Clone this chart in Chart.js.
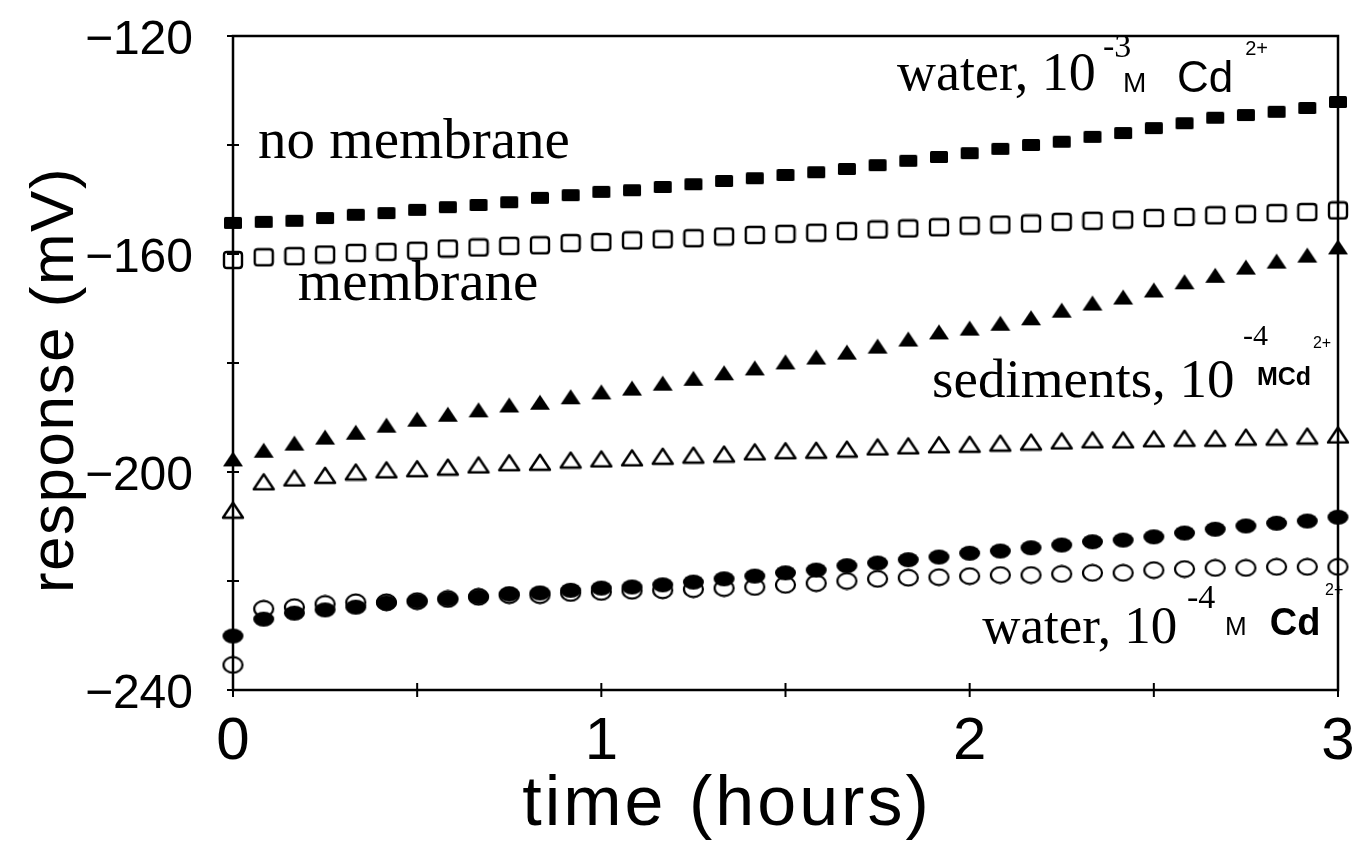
<!DOCTYPE html>
<html>
<head>
<meta charset="utf-8">
<script src="https://cdn.jsdelivr.net/npm/chart.js@4.4.1/dist/chart.umd.min.js"></script>
<style>
  html, body { margin: 0; padding: 0; background: #fff; }
  #wrap { width: 1356px; height: 848px; }
</style>
</head>
<body>
<div id="wrap"><canvas id="chart" width="1356" height="848"></canvas></div>
<script>
// Sampling times (minutes after immersion)
const minutes = [0, 5, 10, 15, 20, 25, 30, 35, 40, 45, 50, 55, 60, 65, 70, 75, 80, 85, 90,
  95, 100, 105, 110, 115, 120, 125, 130, 135, 140, 145, 150, 155, 160, 165, 170, 175, 180];

// Electrode response (mV): water, 1e-3 M Cd2+
const waterHighNoMembrane = [-154.3, -154.1, -153.9, -153.4, -152.8, -152.5, -151.9, -151.4, -151.0,
  -150.5, -149.7, -149.2, -148.6, -148.3, -147.7, -147.2, -146.6, -146.1, -145.5, -145.0, -144.4,
  -143.7, -142.9, -142.2, -141.5, -140.7, -140.0, -139.4, -138.5, -137.8, -136.9, -136.0, -135.0,
  -134.5, -133.9, -133.2, -132.1];
const waterHighMembrane = [-161.1, -160.6, -160.4, -160.1, -159.8, -159.6, -159.4, -159.0, -158.8,
  -158.5, -158.4, -158.0, -157.8, -157.5, -157.3, -157.1, -156.8, -156.5, -156.3, -156.1, -155.8,
  -155.5, -155.3, -155.1, -154.8, -154.6, -154.4, -154.1, -153.9, -153.7, -153.4, -153.2, -152.9,
  -152.7, -152.5, -152.3, -152.0];

// Sediments, 1e-4 M Cd2+
const sedimentNoMembrane = [-197.6, -196.0, -194.7, -193.6, -192.7, -191.4, -190.3, -189.4, -188.6,
  -187.7, -187.2, -186.2, -185.3, -184.6, -183.7, -182.8, -181.8, -180.9, -179.8, -178.9, -178.0,
  -176.9, -175.6, -174.3, -173.6, -172.7, -171.7, -170.3, -169.0, -167.9, -166.6, -165.1, -163.9,
  -162.4, -161.3, -160.2, -158.7];
const sedimentMembrane = [-207.0, -201.8, -201.1, -200.6, -200.0, -199.6, -199.4, -199.1, -198.7,
  -198.3, -198.2, -197.8, -197.6, -197.4, -197.1, -196.9, -196.7, -196.3, -196.1, -196.0, -195.8,
  -195.4, -195.2, -195.0, -194.9, -194.7, -194.5, -194.3, -194.1, -194.1, -193.9, -193.8, -193.8,
  -193.6, -193.6, -193.4, -193.2];

// Water, 1e-4 M Cd2+
const waterLowNoMembrane = [-230.1, -227.0, -225.9, -225.3, -224.8, -224.0, -223.7, -223.3, -222.9,
  -222.4, -222.2, -221.7, -221.3, -221.1, -220.7, -220.2, -219.6, -219.1, -218.5, -218.0, -217.2,
  -216.7, -216.1, -215.6, -214.9, -214.5, -213.9, -213.4, -212.8, -212.5, -211.9, -211.2, -210.5,
  -209.9, -209.4, -209.0, -208.3];
const waterLowMembrane = [-235.4, -225.1, -224.8, -224.2, -223.9, -223.9, -223.7, -223.3, -222.9,
  -222.6, -222.6, -222.2, -222.0, -221.8, -221.7, -221.5, -221.3, -221.1, -220.7, -220.4, -220.0,
  -219.6, -219.4, -219.3, -219.1, -218.9, -218.9, -218.7, -218.5, -218.5, -218.0, -217.8, -217.6,
  -217.6, -217.4, -217.4, -217.4];

// Axis ticks
const xTicks = [0, 0.5, 1, 1.5, 2, 2.5, 3];
const xTickLabels = ['0', '', '1', '', '2', '', '3'];
const yTicks = [-240, -220, -200, -180, -160, -140, -120];
const yTickLabels = ['\u2212240', '', '\u2212200', '', '\u2212160', '', '\u2212120'];

// ---- marker glyphs ----
function glyph(w, h, paint) {
  const c = document.createElement('canvas');
  c.width = w; c.height = h;
  const g = c.getContext('2d');
  g.fillStyle = '#000'; g.strokeStyle = '#000';
  paint(g, w, h);
  return c;
}
function roundRectPath(g, x, y, w, h, r) {
  g.beginPath();
  g.moveTo(x + r, y); g.lineTo(x + w - r, y); g.quadraticCurveTo(x + w, y, x + w, y + r);
  g.lineTo(x + w, y + h - r); g.quadraticCurveTo(x + w, y + h, x + w - r, y + h);
  g.lineTo(x + r, y + h); g.quadraticCurveTo(x, y + h, x, y + h - r);
  g.lineTo(x, y + r); g.quadraticCurveTo(x, y, x + r, y);
  g.closePath();
}
const filledSquare = glyph(20, 14, g => { roundRectPath(g, 1, 1, 18, 12, 1.5); g.fill(); });
const openSquare = glyph(22, 20, g => { g.lineWidth = 2.4; roundRectPath(g, 2, 2, 18, 16, 3); g.stroke(); });
const filledTriangle = glyph(22, 17, g => {
  g.beginPath(); g.moveTo(11, 1); g.lineTo(21, 16); g.lineTo(1, 16); g.closePath(); g.fill();
});
const openTriangle = glyph(24, 19, g => {
  g.lineWidth = 2.4; g.lineJoin = 'round';
  g.beginPath(); g.moveTo(12, 2); g.lineTo(22, 17); g.lineTo(2, 17); g.closePath(); g.stroke();
});
const filledCircle = glyph(23, 17, g => {
  g.beginPath(); g.ellipse(11.5, 8.5, 10.5, 7.5, 0, 0, Math.PI * 2); g.fill();
});
const openCircle = glyph(23, 19, g => {
  g.lineWidth = 2.2;
  g.beginPath(); g.ellipse(11.5, 9.5, 9.5, 7.8, 0, 0, Math.PI * 2); g.stroke();
});

function series(values, style) {
  return {
    data: values.map((v, i) => ({ x: minutes[i] / 60, y: v })),
    pointStyle: style,
    pointRadius: 10,
    pointHoverRadius: 10,
    showLine: false,
    clip: false
  };
}

// ---- text placed in data coordinates ----
const serif = '"Liberation Serif", "Times New Roman", serif';
const sans = '"Liberation Sans", Arial, sans-serif';
const notes = [
  { text: 'no membrane', x: 0.068, y: -142.4, font: '57px ' + serif },
  { text: 'membrane', x: 0.176, y: -168.4, font: '57px ' + serif },

  { text: 'water, 10', x: 1.803, y: -129.9, font: '54px ' + serif },
  { text: '-3', x: 2.362, y: -123.9, font: '34px ' + serif },
  { text: 'M', x: 2.416, y: -130.3, font: '28px ' + sans },
  { text: 'Cd', x: 2.563, y: -130.3, font: '44px ' + sans },
  { text: '2+', x: 2.748, y: -123.5, font: '20px ' + sans },

  { text: 'sediments, 10', x: 1.898, y: -186.2, font: '55px ' + serif },
  { text: '-4', x: 2.742, y: -176.7, font: '30px ' + serif },
  { text: 'MCd', x: 2.780, y: -184.0, font: 'bold 25px ' + sans },
  { text: '2+', x: 2.932, y: -177.2, font: '16px ' + sans },

  { text: 'water, 10', x: 2.034, y: -231.4, font: '53px ' + serif },
  { text: '-4', x: 2.590, y: -225.0, font: '34px ' + serif },
  { text: 'M', x: 2.693, y: -229.9, font: '26px ' + sans },
  { text: 'Cd', x: 2.815, y: -229.9, font: 'bold 38px ' + sans },
  { text: '2+', x: 2.965, y: -222.6, font: '16px ' + sans }
];

// Box frame and tick marks crossing the axes
const frameAndTicks = {
  id: 'frameAndTicks',
  beforeDatasetsDraw(chart) {
    const { ctx, chartArea: a, scales: { x, y } } = chart;
    ctx.save();
    ctx.strokeStyle = '#000';
    ctx.lineWidth = 2.5;
    ctx.strokeRect(a.left, a.top, a.right - a.left, a.bottom - a.top);
    ctx.lineWidth = 2;
    x.ticks.forEach(t => {
      const px = x.getPixelForValue(t.value);
      ctx.beginPath(); ctx.moveTo(px, a.bottom - 7); ctx.lineTo(px, a.bottom + 7); ctx.stroke();
    });
    y.ticks.forEach(t => {
      const py = y.getPixelForValue(t.value);
      ctx.beginPath(); ctx.moveTo(a.left - 6, py); ctx.lineTo(a.left + 6, py); ctx.stroke();
    });
    ctx.restore();
  }
};

// Series annotations and axis titles
const captions = {
  id: 'captions',
  afterDatasetsDraw(chart) {
    const { ctx, chartArea: a, scales: { x, y } } = chart;
    ctx.save();
    ctx.fillStyle = '#000';
    ctx.textAlign = 'left';
    ctx.textBaseline = 'alphabetic';
    notes.forEach(n => {
      ctx.font = n.font;
      ctx.fillText(n.text, x.getPixelForValue(n.x), y.getPixelForValue(n.y));
    });
    ctx.textAlign = 'center';
    ctx.textBaseline = 'middle';
    ctx.font = '70px ' + sans;
    ctx.letterSpacing = '3px';
    ctx.fillText('time (hours)', a.left + 494, 806);
    ctx.translate(56, 380);
    ctx.rotate(-Math.PI / 2);
    ctx.font = '62px ' + sans;
    ctx.letterSpacing = '1.5px';
    ctx.fillText('response (mV)', 0, 0);
    ctx.restore();
  }
};

new Chart(document.getElementById('chart'), {
  type: 'scatter',
  data: {
    datasets: [
      series(waterHighNoMembrane, filledSquare),
      series(waterHighMembrane, openSquare),
      series(sedimentNoMembrane, filledTriangle),
      series(sedimentMembrane, openTriangle),
      series(waterLowNoMembrane, filledCircle),
      series(waterLowMembrane, openCircle)
    ]
  },
  options: {
    responsive: false,
    animation: false,
    devicePixelRatio: 1,
    layout: { padding: { top: 36, right: 18, left: 0, bottom: 0 } },
    plugins: { legend: { display: false }, tooltip: { enabled: false } },
    scales: {
      x: {
        type: 'linear', min: 0, max: 3,
        afterBuildTicks: s => { s.ticks = xTicks.map(v => ({ value: v })); },
        afterFit: s => { s.height = 158; s.paddingLeft = 0; s.paddingRight = 0; },
        grid: { display: false },
        border: { display: false },
        ticks: {
          autoSkip: false, maxRotation: 0, padding: 8, color: '#000',
          font: { family: 'Liberation Sans', size: 60 },
          callback: (v, i) => xTickLabels[i]
        }
      },
      y: {
        type: 'linear', min: -240, max: -120,
        afterBuildTicks: s => { s.ticks = yTicks.map(v => ({ value: v })); },
        afterFit: s => { s.width = 233; s.paddingTop = 0; s.paddingBottom = 0; },
        grid: { display: false },
        border: { display: false },
        ticks: {
          autoSkip: false, padding: 32, labelOffset: 5, color: '#000',
          font: { family: 'Liberation Sans', size: 48 },
          callback: (v, i) => yTickLabels[i]
        }
      }
    }
  },
  plugins: [frameAndTicks, captions]
});
</script>
</body>
</html>
